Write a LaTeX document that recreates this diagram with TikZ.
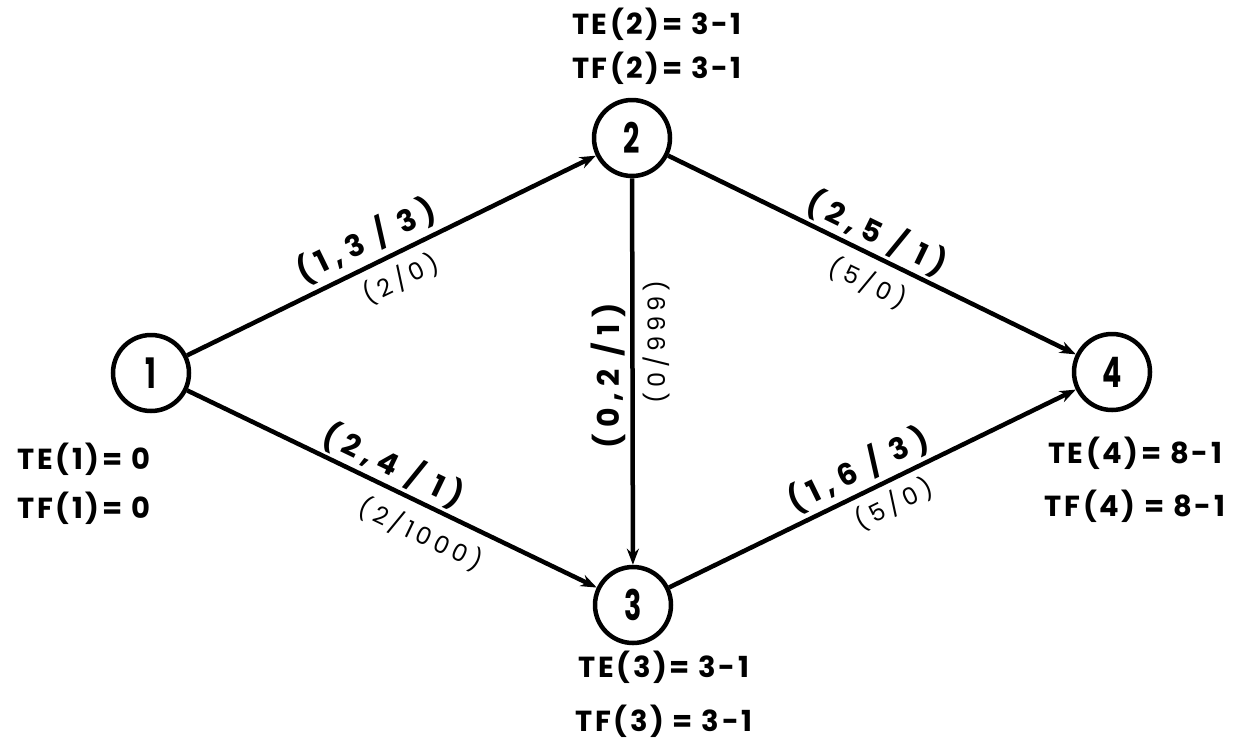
\documentclass[tikz,border=0pt]{standalone}
\usepackage{fontspec}
\setmainfont{Poppins}
\newfontfamily\numfont[FakeStretch=0.68]{Poppins}
\usetikzlibrary{arrows.meta}
\begin{document}
\begin{tikzpicture}[x=1pt,y=-1pt,
  vertex/.style={circle,draw,line width=4.5pt,minimum size=76pt,inner sep=0pt,
    font=\numfont\bfseries\fontsize{42}{42}\selectfont},
  edge/.style={line width=4.5pt,-{Stealth[length=16pt,width=12pt]}},
  tlab/.style={inner sep=0pt,font=\fontsize{29}{29}\selectfont\bfseries\addfontfeature{LetterSpace=9}},
  blab/.style={inner sep=0pt,font=\fontsize{30}{30}\selectfont\bfseries\addfontfeature{LetterSpace=22}},
  rlab/.style={inner sep=0pt,font=\fontsize{24}{24}\selectfont\addfontfeature{LetterSpace=20}}]
\useasboundingbox (0,0) rectangle (1240,740);
\fill[white] (0,0) rectangle (1240,740);
\node[vertex] (n1) at (151,373) {1};
\node[vertex] (n2) at (632,138) {2};
\node[vertex] (n3) at (633,605) {3};
\node[vertex] (n4) at (1112,372) {4};
\draw[edge] (n1) -- (n2);
\draw[edge] (n1) -- (n3);
\draw[edge] (n2) -- (n3);
\draw[edge] (n2) -- (n4);
\draw[edge] (n3) -- (n4);
\node[blab,rotate=26] (l12a) at (366,240) {(1,3 / 3)};
\node[rlab,rotate=26] (l12b) at (401,279) {(2/0)};
\node[blab,rotate=-25.7] (l13a) at (394,465) {(2,4 / 1)};
\node[rlab,rotate=-25.7] (l13b) at (421,534) {(2/1000)};
\node[blab,rotate=90] (l23a) at (608,376) {(0,2 /1)};
\node[rlab,rotate=90] (l23b) at (656,342) {(0/999)};
\node[blab,rotate=-26] (l24a) at (877,233) {(2,5 / 1)};
\node[rlab,rotate=-26] (l24b) at (868,283) {(5/0)};
\node[blab,rotate=26] (l34a) at (858,469) {(1,6 / 3)};
\node[rlab,rotate=26] (l34b) at (894,504) {(5/0)};
\node[tlab] (te1) at (84,459) {TE(1)= 0};
\node[tlab] (tf1) at (84,508) {TF(1)= 0};
\node[tlab] (te2) at (657,24) {TE(2)= 3-1};
\node[tlab] (tf2) at (657,68) {TF(2)= 3-1};
\node[tlab] (te3) at (664,667) {TE(3)= 3-1};
\node[tlab] (tf3) at (664,721) {TF(3) = 3-1};
\node[tlab] (te4) at (1135,453) {TE(4)= 8-1};
\node[tlab] (tf4) at (1135,506) {TF(4) = 8-1};
\end{tikzpicture}
\end{document}
